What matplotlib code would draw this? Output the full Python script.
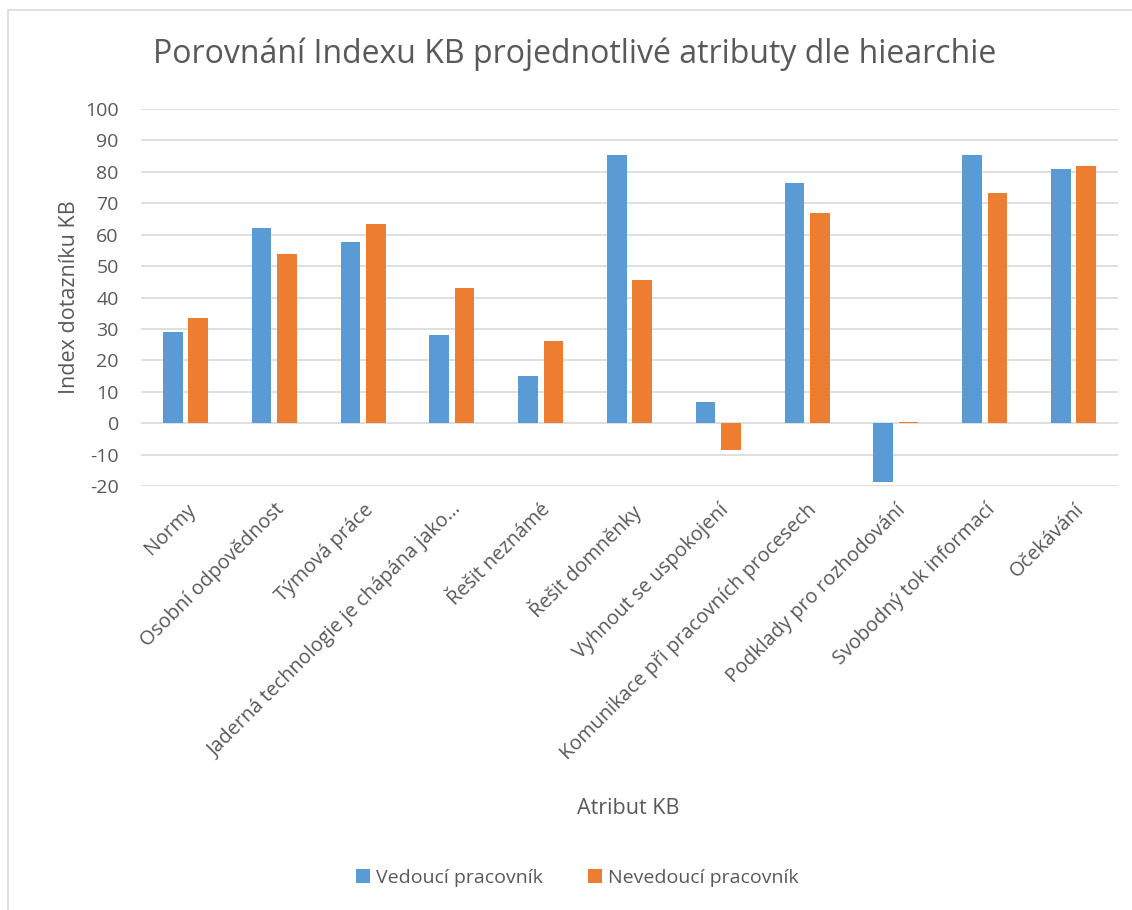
import matplotlib.pyplot as plt
import numpy as np
from matplotlib.patches import Rectangle

# Data
categories = [
    "Normy",
    "Osobní odpovědnost",
    "Týmová práce",
    "Jaderná technologie je chápána jako…",
    "Řešit neznámé",
    "Řešit domněnky",
    "Vyhnout se uspokojení",
    "Komunikace při pracovních procesech",
    "Podklady pro rozhodování",
    "Svobodný tok informací",
    "Očekávání",
]
vedouci = [29.1, 62.0, 57.7, 28.1, 15.0, 85.5, 6.7, 76.4, -18.6, 85.5, 81.0]
nevedouci = [33.6, 54.0, 63.3, 43.0, 26.3, 45.5, -8.5, 67.0, 0.3, 73.4, 81.8]
series_names = ["Vedoucí pracovník", "Nevedoucí pracovník"]
y_ticks = list(range(-20, 101, 10))

blue = "#5B9BD5"
orange = "#ED7D31"
text_col = "#595959"

plt.rcParams["font.family"] = ["Open Sans", "DejaVu Sans"]
plt.rcParams["axes.unicode_minus"] = False

fig = plt.figure(figsize=(11.32, 9.10), dpi=100)
ax = fig.add_axes([0.1246, 0.4659, 0.863, 0.4143])

x = np.arange(len(categories))
w = 0.22
off = 0.143
ax.bar(x - off, vedouci, w, color=blue, label=series_names[0], zorder=3)
ax.bar(x + off, nevedouci, w, color=orange, label=series_names[1], zorder=3)

ax.set_xlim(-0.5, len(categories) - 0.5)
ax.set_ylim(-20, 100)
ax.set_yticks(y_ticks)
ax.yaxis.grid(True, color="#D9D9D9", linewidth=1.2, zorder=0)
ax.set_axisbelow(True)
for s in ax.spines.values():
    s.set_visible(False)
ax.tick_params(axis="both", length=0, labelsize=14, labelcolor=text_col)
ax.tick_params(axis="y", pad=16)

ax.set_xticks(x)
ax.set_xticklabels(categories, rotation=45, ha="right", va="top",
                   rotation_mode="anchor", fontsize=14.3)
ax.tick_params(axis="x", pad=10)

ax.set_ylabel("Index dotazníku KB", fontsize=15.5, color=text_col, labelpad=4)
fig.text(0.555, 0.112, "Atribut KB", fontsize=15.5, color=text_col,
         ha="center", va="center")
fig.text(0.508, 0.94, "Porovnání Indexu KB projednotlivé atributy dle hiearchie",
         fontsize=23, color=text_col, ha="center", va="center")

fig.legend(loc="center", bbox_to_anchor=(0.51, 0.035), ncol=2, frameon=False,
           fontsize=14, labelcolor=text_col, handlelength=0.75, handleheight=0.75,
           columnspacing=2.3, handletextpad=0.3)

# chart frame
fig.patches.append(Rectangle((8 / 1132, -0.1), 1.2, 1 - 10 / 910 + 0.1,
                             transform=fig.transFigure, fill=False,
                             edgecolor="#D9D9D9", linewidth=1.2))

fig.savefig("out.png", dpi=100)
